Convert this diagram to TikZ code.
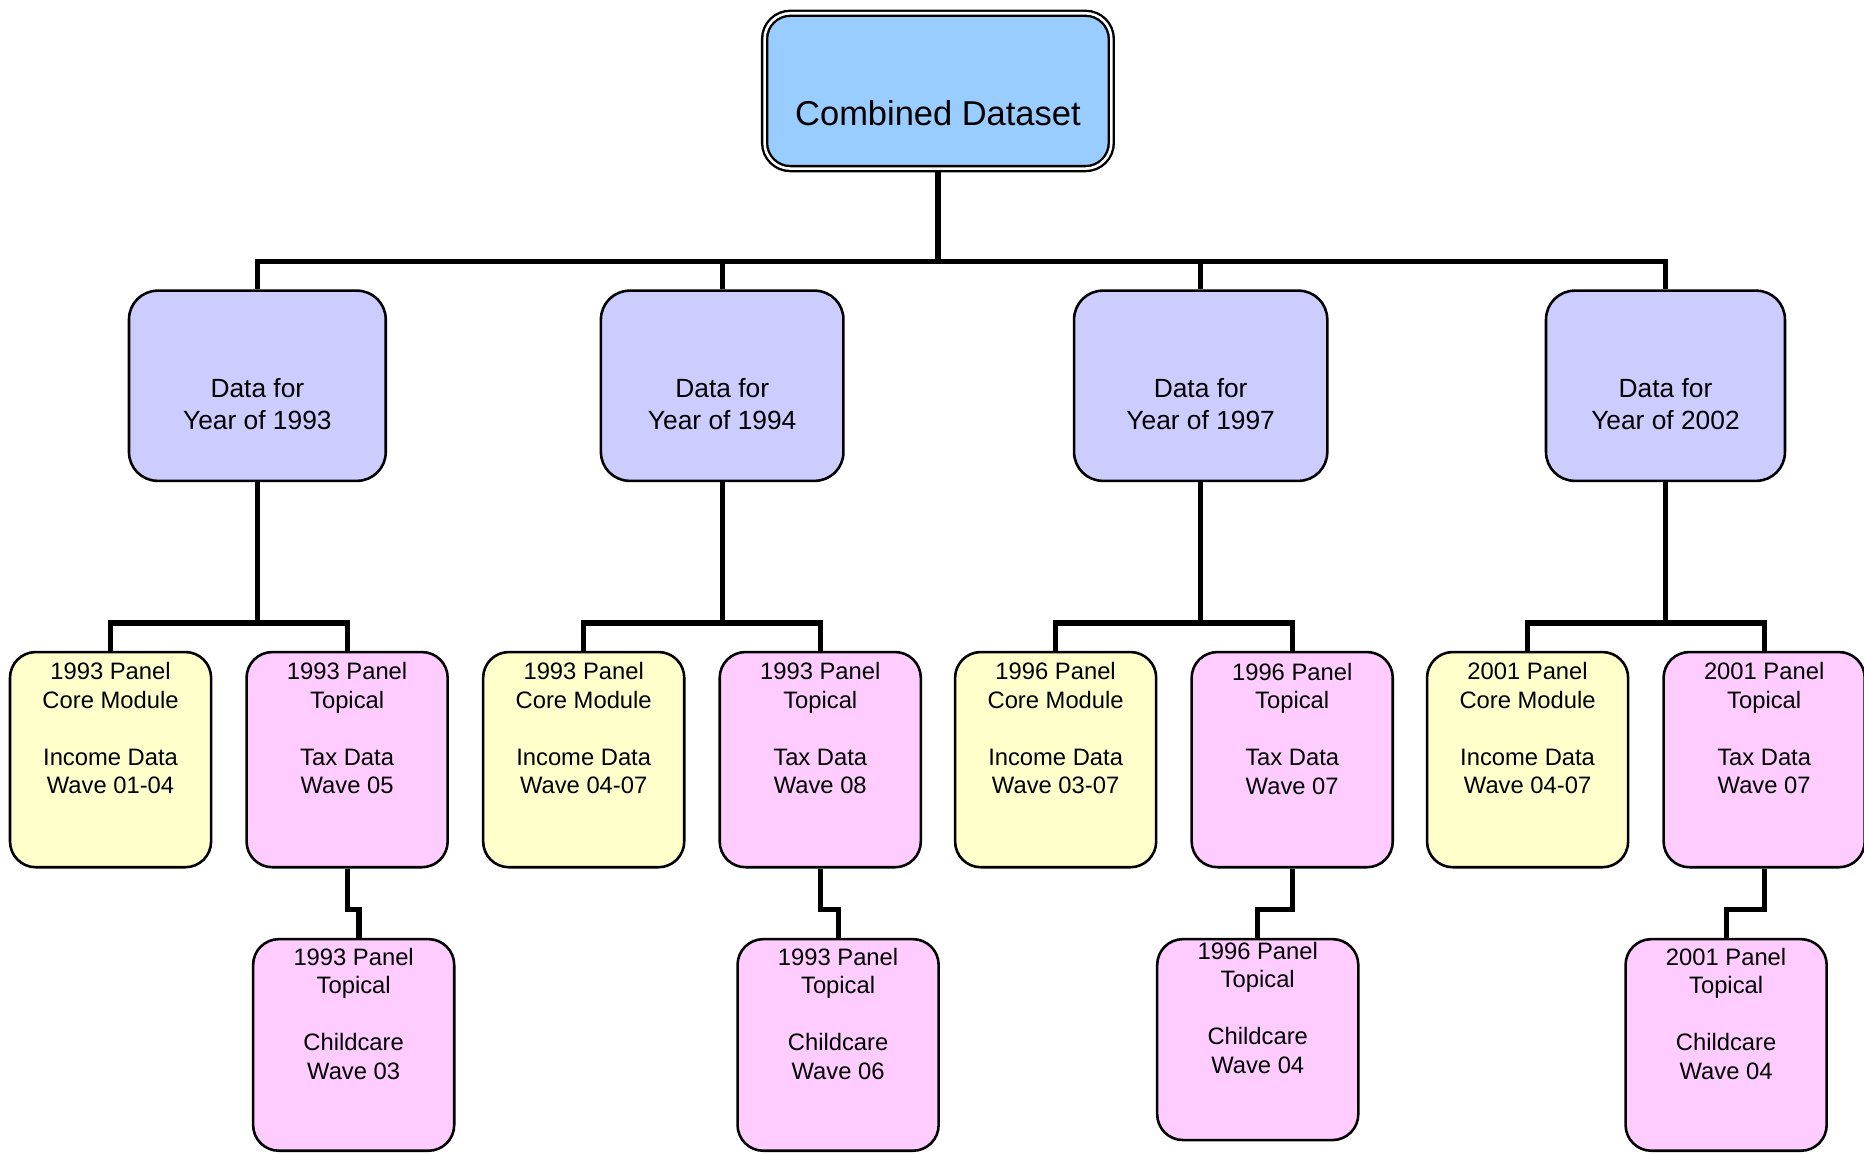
\documentclass[tikz,border=0pt]{standalone}
\usepackage{fontspec}
\setmainfont{Liberation Sans}
\definecolor{rootc}{HTML}{99CCFF}
\definecolor{yearc}{HTML}{CCCCFF}
\definecolor{corec}{HTML}{FFFFCC}
\definecolor{topc}{HTML}{FFCCFF}
\begin{document}
\begin{tikzpicture}[x=0.6pt,y=-0.6pt,
  rootbox/.style={draw=black, line width=1.2pt, double=white, double distance=1.3pt, fill=rootc,
    rounded corners=13pt, minimum width=175pt, minimum height=78.4pt, inner sep=0pt},
  yearbox/.style={draw=black, line width=1.3pt, fill=yearc, rounded corners=14.5pt,
    minimum height=96pt, inner sep=0pt},
  corebox/.style={draw=black, line width=1.3pt, fill=corec, rounded corners=13pt,
    minimum width=101.5pt, minimum height=108.6pt, inner sep=0pt},
  topbox/.style={draw=black, line width=1.3pt, fill=topc, rounded corners=13pt,
    minimum width=101.5pt, minimum height=108.6pt, inner sep=0pt},
  roottxt/.style={inner sep=0pt, font=\fontsize{17.4}{21}\selectfont},
  yeartxt/.style={inner sep=0pt, anchor=north, align=center, font=\fontsize{13.3}{16.2}\selectfont},
  leaftxt/.style={inner sep=0pt, anchor=north, align=center, font=\fontsize{12}{14.4}\selectfont},
  conn/.style={draw=black, line width=2.6pt, line join=miter}
]
\useasboundingbox (0,0) rectangle (1568,970);

\coordinate (bus) at (0,220);
\coordinate (sub) at (0,524);
\coordinate (jog) at (0,765);

% root
\node[rootbox] (root) at (789,76.5) {};
\node[roottxt] (troot) at (789,95) {Combined Dataset};

% year boxes
\node[yearbox, minimum width=129.6pt] (A) at (216.5,324.5) {};
\node[yearbox, minimum width=122.4pt] (B) at (607.5,324.5) {};
\node[yearbox, minimum width=127.8pt] (C) at (1010,324.5) {};
\node[yearbox, minimum width=120.6pt] (D) at (1401,324.5) {};
\node[yeartxt] (tA) at (216.5,318) {Data for\\Year of 1993};
\node[yeartxt] (tB) at (607.5,318) {Data for\\Year of 1994};
\node[yeartxt] (tC) at (1010,318) {Data for\\Year of 1997};
\node[yeartxt] (tD) at (1401,318) {Data for\\Year of 2002};

% level 2
\node[corebox] (a1) at (93,639) {};
\node[topbox]  (a2) at (292,639) {};
\node[corebox] (b1) at (491,639) {};
\node[topbox]  (b2) at (690,639) {};
\node[corebox] (c1) at (888,639) {};
\node[topbox]  (c2) at (1087,639) {};
\node[corebox] (d1) at (1285,639) {};
\node[topbox]  (d2) at (1484,639) {};
\node[leaftxt] (ta1) at (93,557) {1993 Panel\\Core Module\\[14.4pt]Income Data\\Wave 01-04};
\node[leaftxt] (ta2) at (292,557) {1993 Panel\\Topical\\[14.4pt]Tax Data\\Wave 05};
\node[leaftxt] (tb1) at (491,557) {1993 Panel\\Core Module\\[14.4pt]Income Data\\Wave 04-07};
\node[leaftxt] (tb2) at (690,557) {1993 Panel\\Topical\\[14.4pt]Tax Data\\Wave 08};
\node[leaftxt] (tc1) at (888,557) {1996 Panel\\Core Module\\[14.4pt]Income Data\\Wave 03-07};
\node[leaftxt] (tc2) at (1087,557.5) {1996 Panel\\Topical\\[14.4pt]Tax Data\\Wave 07};
\node[leaftxt] (td1) at (1285,557) {2001 Panel\\Core Module\\[14.4pt]Income Data\\Wave 04-07};
\node[leaftxt] (td2) at (1484,557) {2001 Panel\\Topical\\[14.4pt]Tax Data\\Wave 07};

% level 3
\node[topbox, minimum height=106.8pt] (a3) at (297.5,879) {};
\node[topbox, minimum height=106.8pt] (b3) at (705,879) {};
\node[topbox, minimum height=101.4pt] (c3) at (1058,874.5) {};
\node[topbox, minimum height=106.8pt] (d3) at (1452,879) {};
\node[leaftxt] (ta3) at (297.5,797) {1993 Panel\\Topical\\[14.4pt]Childcare\\Wave 03};
\node[leaftxt] (tb3) at (705,797) {1993 Panel\\Topical\\[14.4pt]Childcare\\Wave 06};
\node[leaftxt] (tc3) at (1058,792) {1996 Panel\\Topical\\[14.4pt]Childcare\\Wave 04};
\node[leaftxt] (td3) at (1452,797) {2001 Panel\\Topical\\[14.4pt]Childcare\\Wave 04};

% connectors: root to years
\draw[conn] (root.south) -- (root.south |- bus);
\draw[conn] (A.north) -- (A.north |- bus) -- (D.north |- bus) -- (D.north);
\draw[conn] (B.north) -- (B.north |- bus);
\draw[conn] (C.north) -- (C.north |- bus);

% years to level 2
\draw[conn] (A.south) -- (A.south |- sub);
\draw[conn] (a1.north) -- (a1.north |- sub) -- (a2.north |- sub) -- (a2.north);
\draw[conn] (B.south) -- (B.south |- sub);
\draw[conn] (b1.north) -- (b1.north |- sub) -- (b2.north |- sub) -- (b2.north);
\draw[conn] (C.south) -- (C.south |- sub);
\draw[conn] (c1.north) -- (c1.north |- sub) -- (c2.north |- sub) -- (c2.north);
\draw[conn] (D.south) -- (D.south |- sub);
\draw[conn] (d1.north) -- (d1.north |- sub) -- (d2.north |- sub) -- (d2.north);

% level 2 to level 3
\draw[conn] (a2.south) -- (a2.south |- jog) -| ([xshift=2.7pt]a3.north);
\draw[conn] (b2.south) -- (b2.south |- jog) -| (b3.north);
\draw[conn] (c2.south) -- (c2.south |- jog) -| (c3.north);
\draw[conn] (d2.south) -- (d2.south |- jog) -| (d3.north);
\end{tikzpicture}
\end{document}
